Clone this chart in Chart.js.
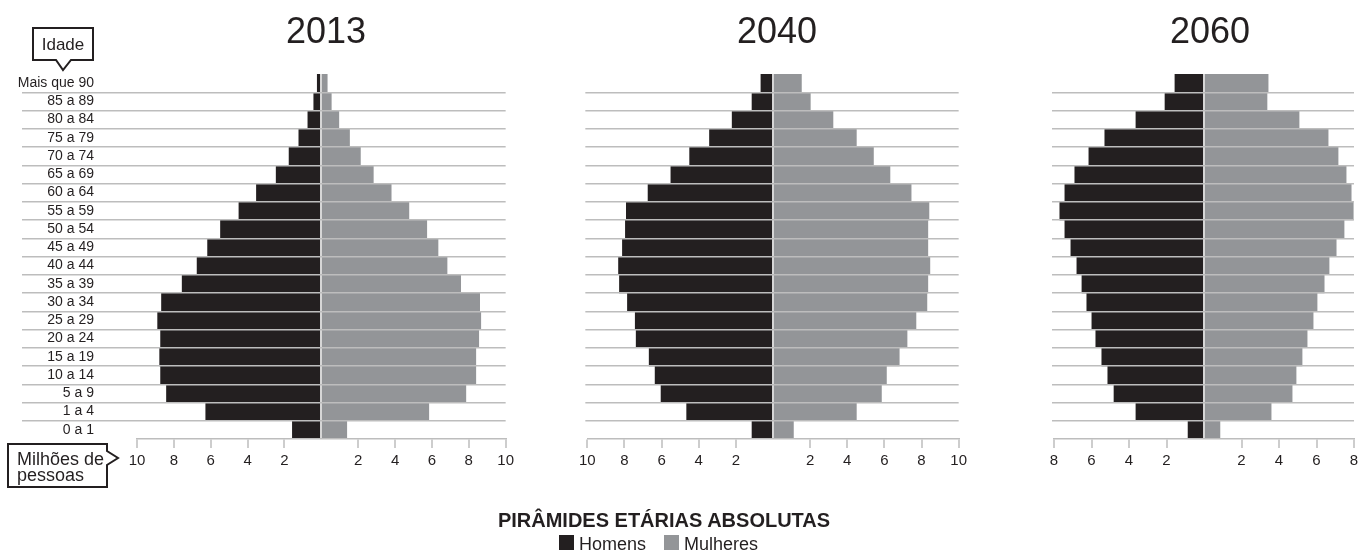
<!DOCTYPE html>
<html>
<head>
<meta charset="utf-8">
<script src="https://cdn.jsdelivr.net/npm/chart.js@4/dist/chart.umd.min.js"></script>
<style>
  body { margin: 0; background: #fff; }
  #wrap { position: relative; width: 1368px; height: 551px; overflow: hidden; font-family: "Liberation Sans", Arial, sans-serif; }
  canvas { position: absolute; }
  #overlay { position: absolute; left: 0; top: 0; pointer-events: none; }
</style>
</head>
<body>
<div id="wrap">
  <canvas id="c2013" width="508" height="415" style="left:10px; top:64px"></canvas>
  <canvas id="c2040" width="396" height="415" style="left:575px; top:64px"></canvas>
  <canvas id="c2060" width="320" height="415" style="left:1044px; top:64px"></canvas>
  <svg id="overlay" width="1368" height="551" font-family="Liberation Sans, Arial, sans-serif" fill="#231f20">
    <text x="326" y="43" font-size="36" text-anchor="middle">2013</text>
    <text x="777" y="43" font-size="36" text-anchor="middle">2040</text>
    <text x="1210" y="43" font-size="36" text-anchor="middle">2060</text>

    <path d="M33,28 H93 V60 H71 L63,70 L56,60 H33 Z" fill="#fff" stroke="#231f20" stroke-width="2"/>
    <text x="63" y="50" font-size="17" text-anchor="middle">Idade</text>

    <path d="M8,444 H107 V451 L118,458 L107,465 V487 H8 Z" fill="#fff" stroke="#231f20" stroke-width="2"/>
    <text x="17" y="465" font-size="18">Milhões de</text>
    <text x="17" y="481" font-size="18">pessoas</text>

    <text x="664" y="527" font-size="20" font-weight="bold" text-anchor="middle">PIRÂMIDES ETÁRIAS ABSOLUTAS</text>
    <rect x="559" y="535" width="15" height="15" fill="#231f20"/>
    <text x="579" y="550" font-size="18">Homens</text>
    <rect x="664" y="535" width="15" height="15" fill="#939598"/>
    <text x="684" y="550" font-size="18">Mulheres</text>
  </svg>
</div>
<script>
// faixas etárias, de cima para baixo
const ages = ["Mais que 90", "85 a 89", "80 a 84", "75 a 79", "70 a 74", "65 a 69", "60 a 64",
    "55 a 59", "50 a 54", "45 a 49", "40 a 44", "35 a 39", "30 a 34", "25 a 29", "20 a 24",
    "15 a 19", "10 a 14", "5 a 9", "1 a 4", "0 a 1"];

// milhões de pessoas
const men2013 = [0.22, 0.41, 0.73, 1.22, 1.75, 2.45, 3.52, 4.47, 5.47, 6.17, 6.74, 7.55, 8.67, 8.88, 8.72, 8.77, 8.72, 8.40, 6.27, 1.57];
const women2013 = [0.32, 0.54, 0.95, 1.53, 2.12, 2.82, 3.79, 4.75, 5.72, 6.33, 6.82, 7.56, 8.59, 8.65, 8.54, 8.38, 8.38, 7.84, 5.83, 1.38];

const men2040 = [0.65, 1.13, 2.20, 3.42, 4.49, 5.50, 6.73, 7.90, 7.95, 8.11, 8.32, 8.27, 7.84, 7.42, 7.37, 6.67, 6.35, 6.03, 4.65, 1.13];
const women2040 = [1.53, 2.01, 3.23, 4.49, 5.41, 6.30, 7.44, 8.40, 8.34, 8.34, 8.45, 8.34, 8.29, 7.70, 7.22, 6.80, 6.11, 5.84, 4.49, 1.10];

const men2060 = [1.55, 2.08, 3.63, 5.29, 6.14, 6.89, 7.42, 7.69, 7.42, 7.10, 6.78, 6.51, 6.25, 5.98, 5.77, 5.45, 5.13, 4.80, 3.63, 0.85];
const women2060 = [3.42, 3.36, 5.07, 6.62, 7.15, 7.58, 7.85, 7.96, 7.47, 7.05, 6.67, 6.41, 6.03, 5.82, 5.50, 5.23, 4.91, 4.70, 3.58, 0.85];

const axisMax2013 = 10;
const axisMax2040 = 10;
const axisMax2060 = 8;

const BLACK = "#231f20";
const GREY = "#939598";
const LINE = "#bdbdbd";
const FONT = "'Liberation Sans', Arial, sans-serif";

function makePyramid(id, men, women, max, showLabels) {
    const ctx = document.getElementById(id).getContext("2d");
    return new Chart(ctx, {
        type: "bar",
        data: {
            labels: ages,
            datasets: [
                { label: "Homens", data: men.map(v => -v), backgroundColor: BLACK },
                { label: "Mulheres", data: women, backgroundColor: GREY }
            ]
        },
        options: {
            indexAxis: "y",
            responsive: false,
            animation: false,
            devicePixelRatio: 1,
            barPercentage: 1,
            categoryPercentage: 1,
            layout: { padding: { top: 10, right: 10, left: 0, bottom: 0 } },
            plugins: { legend: { display: false }, tooltip: { enabled: false } },
            scales: {
                x: {
                    stacked: true,
                    min: -max,
                    max: max,
                    ticks: {
                        stepSize: 2,
                        padding: 4,
                        color: BLACK,
                        font: { family: FONT, size: 15 },
                        callback: v => v === 0 ? "" : String(Math.abs(v))
                    },
                    grid: {
                        z: 1,
                        lineWidth: 2,
                        tickLength: 9,
                        color: c => c.tick && c.tick.value === 0 ? "#d6d6d6" : "transparent",
                        tickColor: c => c.tick && c.tick.value === 0 ? "transparent" : LINE,
                        tickWidth: 1.5
                    },
                    border: { display: true, color: LINE, width: 1.5, z: 1 },
                    afterFit: axis => { axis.width = axis.width; axis.height = 40; }
                },
                y: {
                    stacked: true,
                    ticks: {
                        display: showLabels,
                        autoSkip: false,
                        padding: -72,
                        color: BLACK,
                        font: { family: FONT, size: 14 }
                    },
                    grid: {
                        z: 1,
                        offset: true,
                        lineWidth: 1.5,
                        tickLength: showLabels ? 115 : 2,
                        color: c => (c.tick && c.index > 0) ? LINE : "transparent"
                    },
                    border: { display: false },
                    afterFit: axis => { axis.width = showLabels ? 127 : 10; }
                }
            }
        }
    });
}

makePyramid("c2013", men2013, women2013, axisMax2013, true);
makePyramid("c2040", men2040, women2040, axisMax2040, false);
makePyramid("c2060", men2060, women2060, axisMax2060, false);
</script>
</body>
</html>
